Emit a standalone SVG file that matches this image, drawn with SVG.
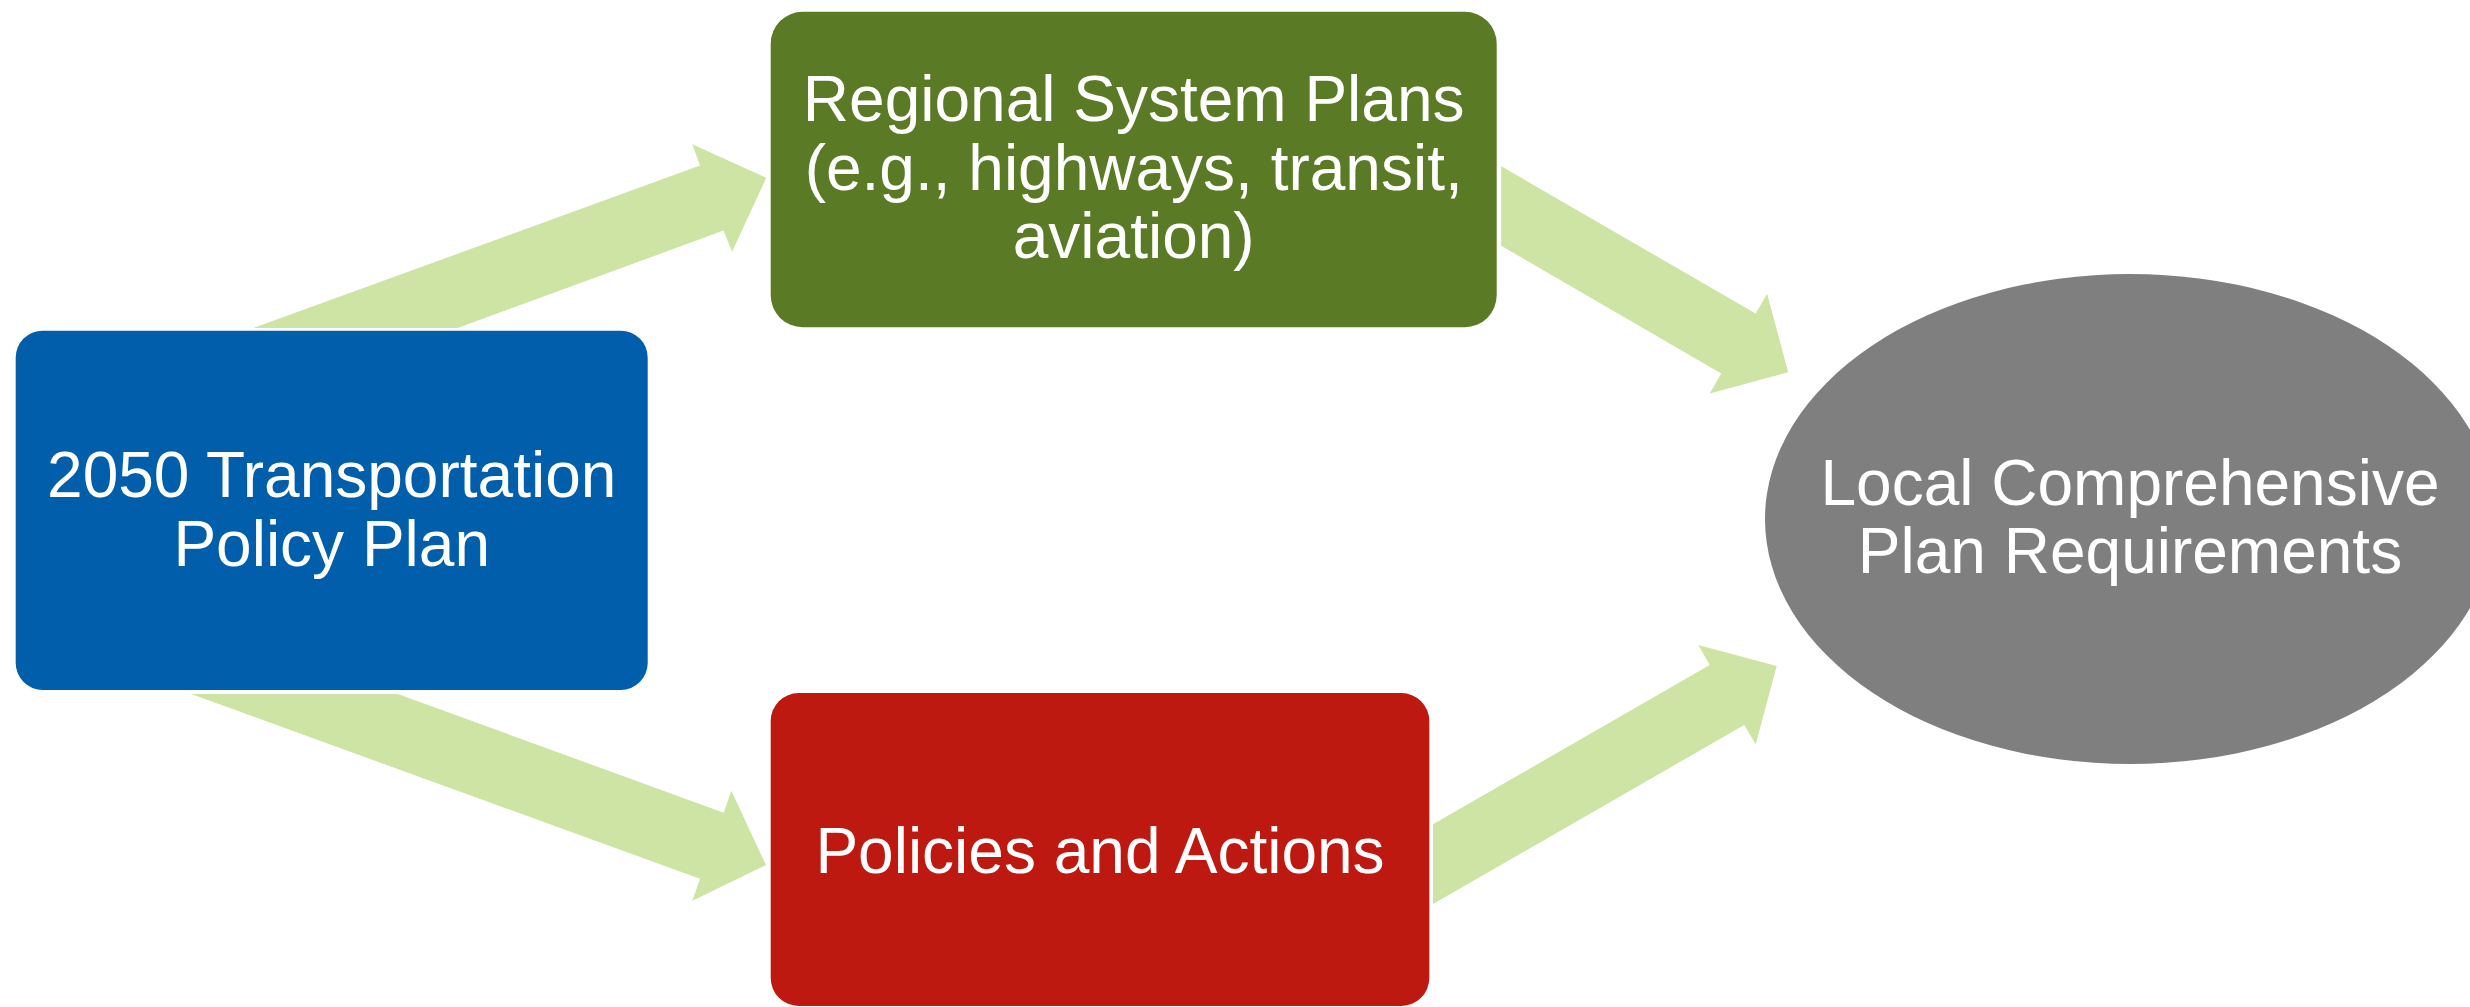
<svg xmlns="http://www.w3.org/2000/svg" width="2470" height="1007" viewBox="0 0 2470 1007">
<style>
.arrow{fill:#CDE4A4;stroke:none}
.lbl{font-family:"Liberation Sans",Arial,sans-serif;font-size:64px;fill:#FFFFFF;text-anchor:middle}
</style>
<rect width="2470" height="1007" fill="#FFFFFF"/>
<g id="connectors">
<polygon class="arrow" points="253.6,328 700,165.6 692.3,144.2 766.3,177.8 732.1,251.7 723.5,230.6 457.7,328"/>
<polygon class="arrow" points="191,694 397.8,694 723.7,812.7 731.3,790.7 766,865 692.4,900.8 700,878.8"/>
<polygon class="arrow" points="1501.2,166.2 1755.7,313.6 1767.1,293.8 1788.2,372.3 1709.7,393.4 1721.2,373.6 1501.2,245.8"/>
<polygon class="arrow" points="1433,824.3 1709.7,665 1698.3,645 1776.7,666 1755.7,744.3 1744.2,725 1433,904"/>
</g>
<g id="node-policy-plan">
<rect x="15.7" y="330.7" width="632" height="359.3" rx="27" ry="27" fill="#005EAA"/>
<text class="lbl" x="331.7" y="497">2050 Transportation</text>
<text class="lbl" x="331.7" y="566">Policy Plan</text>
</g>
<g id="node-regional">
<rect x="770.7" y="11.7" width="726" height="315.6" rx="32" ry="32" fill="#5B7A26"/>
<text class="lbl" x="1133.7" y="121">Regional System Plans</text>
<text class="lbl" x="1133.7" y="190">(e.g., highways, transit,</text>
<text class="lbl" x="1133.7" y="258">aviation)</text>
</g>
<g id="node-policies">
<rect x="770.7" y="693" width="658.6" height="313" rx="28" ry="28" fill="#BE1910"/>
<text class="lbl" x="1100" y="873">Policies and Actions</text>
</g>
<g id="node-local">
<ellipse cx="2130" cy="519" rx="365" ry="245" fill="#7F7F7F"/>
<text class="lbl" x="2130" y="505">Local Comprehensive</text>
<text class="lbl" x="2130" y="573">Plan Requirements</text>
</g>
</svg>
